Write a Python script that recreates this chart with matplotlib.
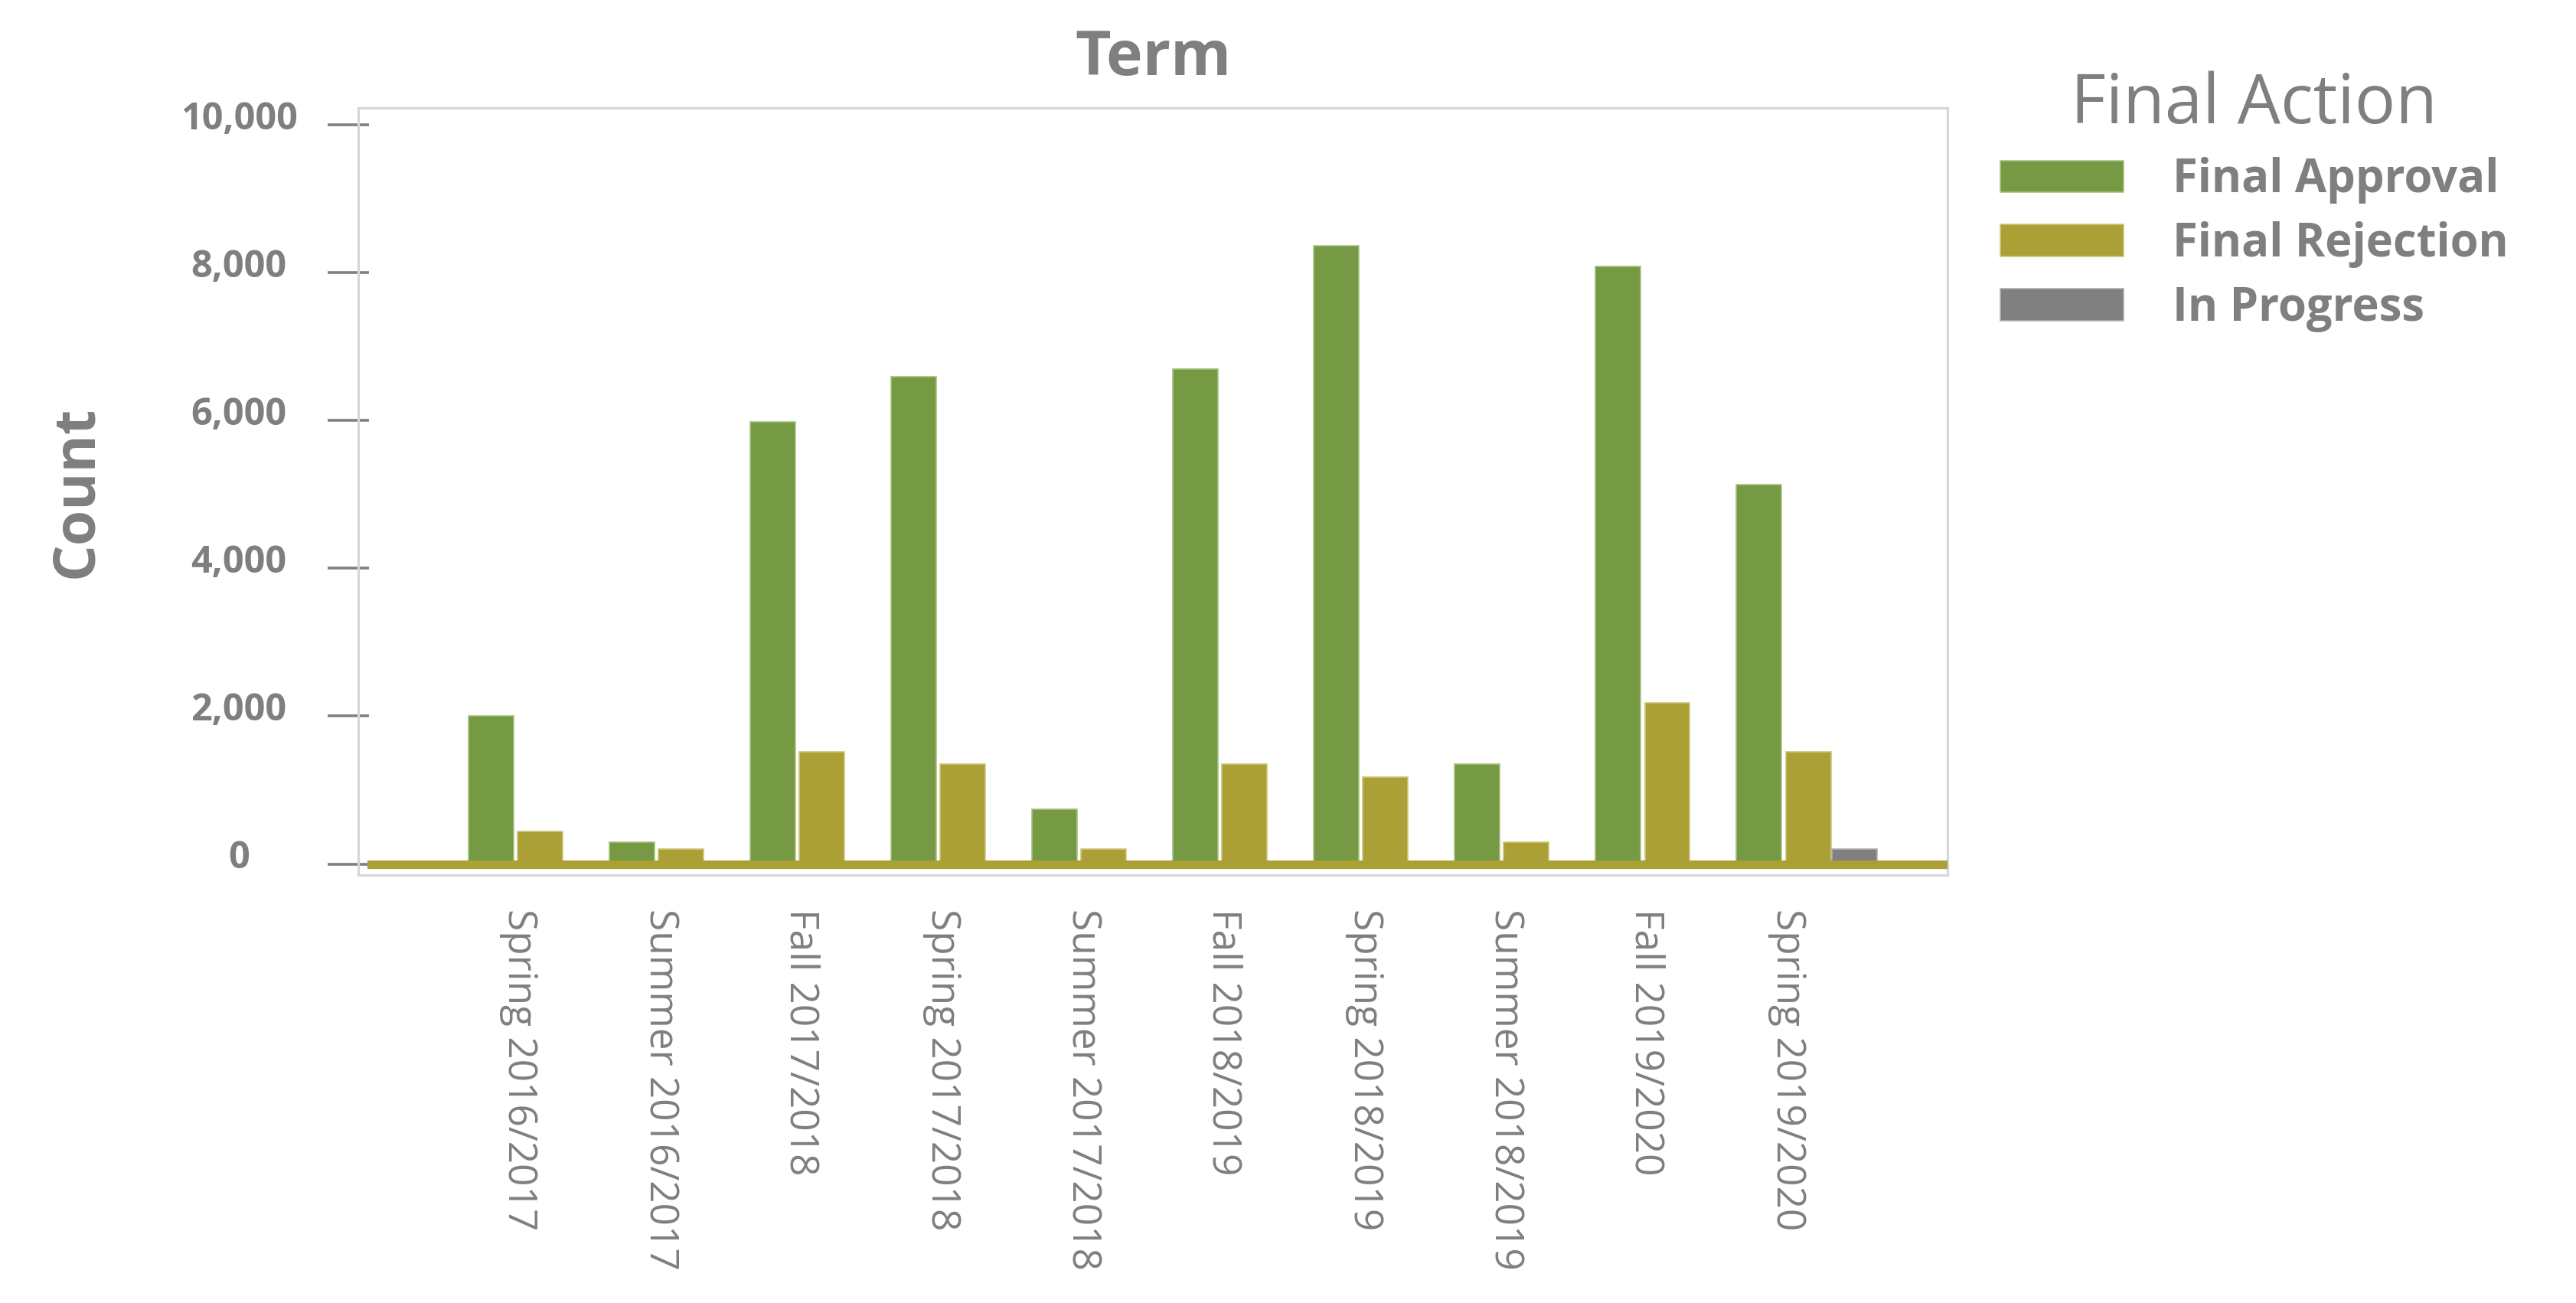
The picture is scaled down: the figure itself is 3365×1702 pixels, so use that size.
import numpy as np
import matplotlib
matplotlib.use('Agg')
import matplotlib.pyplot as plt
from matplotlib.ticker import FixedLocator
from matplotlib.transforms import ScaledTranslation

# data
terms = ['Spring 2016/2017', 'Summer 2016/2017', 'Fall 2017/2018', 'Spring 2017/2018',
         'Summer 2017/2018', 'Fall 2018/2019', 'Spring 2018/2019', 'Summer 2018/2019',
         'Fall 2019/2020', 'Spring 2019/2020']
approval = [2000, 300, 5980, 6590, 745, 6700, 8360, 1355, 8080, 5130]
rejection = [445, 205, 1520, 1355, 205, 1355, 1180, 295, 2180, 1515]
in_progress = [0, 0, 0, 0, 0, 0, 0, 0, 0, 200]
series_names = ['Final Approval', 'Final Rejection', 'In Progress']
yticks = [0, 2000, 4000, 6000, 8000, 10000]

green = '#769a43'
olive = '#aba035'
grey = '#808080'
txt = '#7f7f7f'

plt.rcParams['font.family'] = ['Open Sans', 'DejaVu Sans']

fig = plt.figure(figsize=(33.65, 17.02), dpi=100)
ax = fig.add_axes([0.1391, 0.3284, 0.6170, 0.5887])

x = np.arange(len(terms))
w = 0.32
b1 = ax.bar(x - 0.35, approval, w, color=green, edgecolor='#a9c284', linewidth=1.2,
            label=series_names[0], zorder=2)
b2 = ax.bar(x, rejection, w, color=olive, edgecolor='#cfc67a', linewidth=1.2,
            label=series_names[1], zorder=2)
b3 = ax.bar(x + 0.33, in_progress, w, color=grey, edgecolor='#b0b0b0', linewidth=1.2,
            label=series_names[2], zorder=2)

# olive zero line
ax.axhline(0, xmin=0.008, xmax=1, color=olive, linewidth=8, zorder=3)

ax.set_xlim(-1.29, 9.99)
ax.set_ylim(-150, 10228)

for s in ax.spines.values():
    s.set_color('#d6d6d6')
    s.set_linewidth(2.2)

# y ticks: outward major + short inward minor at same spots
ax.set_yticks(yticks, [f'{v:,}' for v in yticks])
ax.yaxis.remove_overlapping_locs = False
ax.yaxis.set_minor_locator(FixedLocator(yticks))
ax.tick_params(axis='y', which='major', direction='out', length=28.8, width=2.6,
               color=grey, pad=83.5, labelsize=35, labelcolor=txt)
ax.tick_params(axis='y', which='minor', direction='in', length=10, width=2.6, color=grey)
offset = ScaledTranslation(0, 0.13, fig.dpi_scale_trans)
for lab in ax.get_yticklabels():
    lab.set_horizontalalignment('center')
    lab.set_fontweight('bold')
    lab.set_transform(lab.get_transform() + offset)

ax.set_xticks(x - 0.15, terms, rotation=-90, ha='center', va='top')
ax.tick_params(axis='x', length=0, pad=31.7, labelsize=37, labelcolor=txt)

ax.set_title('Term', fontsize=58, fontweight='bold', color=txt, pad=31)
ax.set_ylabel('Count', fontsize=54, fontweight='bold', color=txt)
ax.yaxis.set_label_coords(-0.1768, 0.5)
ax.yaxis.label.set_va('center')

leg = fig.legend(handles=[b1, b2, b3], loc='upper left', bbox_to_anchor=(0.7765, 0.9458),
                 frameon=False, borderpad=0, borderaxespad=0,
                 handlelength=2.7, handleheight=0.7, handletextpad=1.07, labelspacing=0.38,
                 prop={'size': 43, 'weight': 'bold'}, labelcolor=txt,
                 title='Final Action', title_fontproperties={'size': 64})
leg.get_title().set_color(txt)

fig.savefig('out.png', dpi=100)
